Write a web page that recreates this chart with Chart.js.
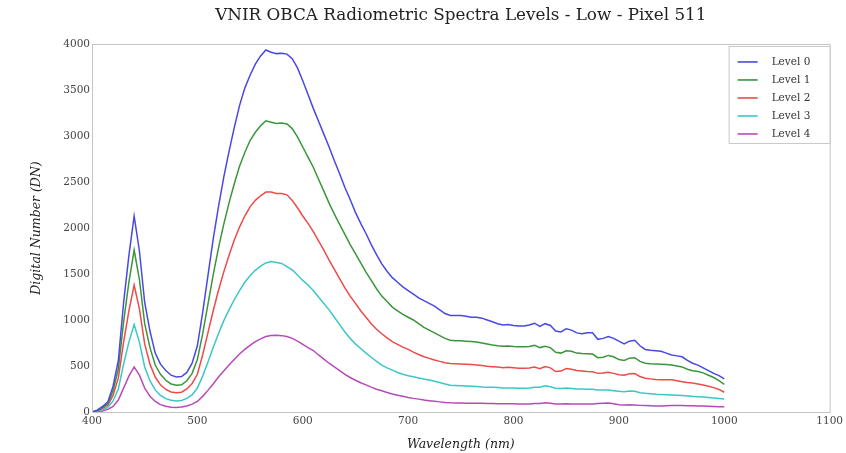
<!DOCTYPE html>
<html>
<head>
<meta charset="utf-8">
<script src="https://cdn.jsdelivr.net/npm/chart.js@4"></script>
<style>
  html, body { margin: 0; padding: 0; background: #fff; }
  #wrap { width: 846px; height: 453px; }
</style>
</head>
<body>
<div id="wrap"><canvas id="spectra" width="846" height="453"></canvas></div>
<script>
// wavelength samples (nm)
const wavelengths = [
  400, 405, 410, 415, 420, 425, 430, 435, 440, 445,
  450, 455, 460, 465, 470, 475, 480, 485, 490, 495,
  500, 505, 510, 515, 520, 525, 530, 535, 540, 545,
  550, 555, 560, 565, 570, 575, 580, 585, 590, 595,
  600, 605, 610, 615, 620, 625, 630, 635, 640, 645,
  650, 655, 660, 665, 670, 675, 680, 685, 690, 695,
  700, 705, 710, 715, 720, 725, 730, 735, 740, 745,
  750, 755, 760, 765, 770, 775, 780, 785, 790, 795,
  800, 805, 810, 815, 820, 825, 830, 835, 840, 845,
  850, 855, 860, 865, 870, 875, 880, 885, 890, 895,
  900, 905, 910, 915, 920, 925, 930, 935, 940, 945,
  950, 955, 960, 965, 970, 975, 980, 985, 990, 995,
  1000
];

const level0 = [
  0, 20, 60, 110, 280, 560, 1190, 1700, 2130, 1750,
  1190, 880, 640, 520, 450, 400, 380, 385, 430, 530,
  720, 1080, 1480, 1880, 2230, 2550, 2830, 3090, 3330, 3520,
  3660, 3780, 3870, 3935, 3910, 3895, 3900, 3890, 3840, 3740,
  3600, 3450, 3300, 3160, 3020, 2880, 2730, 2590, 2440, 2310,
  2170, 2050, 1940, 1820, 1710, 1610, 1530, 1460, 1410, 1360,
  1320, 1280, 1240, 1210, 1180, 1150, 1110, 1070, 1050, 1050,
  1050, 1040, 1030, 1030, 1020, 1000, 980, 960, 945, 950,
  940, 935, 935, 945, 965, 930, 960, 940, 880, 870,
  905, 890, 860, 850, 860, 860, 790, 800, 820, 800,
  770, 740, 770, 780, 720, 680, 670, 665, 660, 640,
  620, 610, 600, 560, 530, 510, 480, 450, 420, 395,
  360
];

const level1 = [
  0, 15, 50, 90, 230, 470, 980, 1410, 1760, 1440,
  960, 700, 510, 410, 345, 305, 290, 295, 340, 420,
  570, 850, 1170, 1490, 1780, 2040, 2270, 2480, 2670, 2820,
  2950, 3040, 3110, 3165, 3150, 3135, 3140, 3130, 3080, 2990,
  2880, 2770, 2660, 2530, 2400, 2270, 2150, 2040, 1930, 1820,
  1720, 1620, 1520, 1430, 1340, 1260, 1200, 1140, 1100, 1060,
  1030, 1000, 960, 920, 890, 860, 830, 800, 780, 775,
  775, 770, 765, 760, 750, 740, 728, 720, 715, 718,
  712, 710, 710, 712, 725, 700, 715, 700, 650, 640,
  665, 660, 640, 635, 632, 630, 590, 595, 615, 600,
  570, 560, 585, 590, 550, 530, 525, 522, 520, 515,
  510, 500, 490, 465, 448, 440, 425, 400, 375, 340,
  300
];

const level2 = [
  0, 12, 40, 75, 180, 370, 760, 1100, 1380, 1120,
  740, 520, 380, 295, 245, 218, 210, 215, 250, 310,
  410, 620, 860, 1100, 1320, 1520, 1700, 1870, 2010, 2130,
  2230, 2300, 2350, 2390, 2390, 2375, 2375, 2360, 2300, 2220,
  2130, 2050, 1960, 1860, 1760, 1650, 1550, 1450, 1350, 1260,
  1180, 1100, 1030, 960, 900, 850, 805, 765, 735, 705,
  680, 650, 625, 600, 583, 565, 550, 535, 528, 525,
  522, 518, 515, 511, 505, 498, 493, 488, 482, 485,
  480, 476, 475, 478, 488, 470, 495, 480, 440, 445,
  472, 465, 450, 445, 440, 438, 420, 425, 432, 420,
  405, 400, 415, 418, 385, 366, 360, 352, 350, 350,
  350, 340, 330, 320, 315, 305, 293, 280, 265, 245,
  215
];

const level3 = [
  0, 8, 25, 50, 120, 250, 520, 760, 950, 760,
  490, 340, 240, 180, 145, 128, 120, 125, 148, 185,
  260, 390, 540, 700, 850, 990, 1110, 1220, 1320, 1410,
  1480, 1540, 1585, 1620, 1635, 1625, 1615, 1580, 1545, 1490,
  1430, 1380, 1320, 1250, 1180, 1110, 1030, 950, 870, 800,
  740, 690, 640, 595, 550, 510, 480, 455, 430, 410,
  395, 382, 370, 358, 348, 335, 320, 305, 292, 288,
  285, 282, 280, 276, 272, 270, 268, 265, 262, 262,
  260, 258, 257, 260, 270, 268, 285, 275, 258, 255,
  260, 255, 250, 250, 248, 247, 240, 238, 240, 232,
  225, 221, 228, 225, 210, 203, 198, 192, 190, 188,
  186, 182, 178, 175, 170, 167, 163, 158, 152, 146,
  140
];

const level4 = [
  0, 5, 12, 28, 60, 130, 260, 390, 490, 400,
  260, 170, 115, 80, 62, 52, 50, 54, 66, 85,
  115, 170, 235, 305, 380, 445, 510, 570, 630, 680,
  725, 765, 795, 820, 832, 835, 830, 820, 800, 770,
  735, 700, 668, 620, 575, 530, 490, 450, 410, 375,
  345, 318, 295, 270, 248, 230, 212, 195, 182, 170,
  158, 148, 140, 130, 123, 117, 110, 104, 100, 98,
  97, 96, 95, 95, 94, 93, 92, 90, 90, 90,
  89, 88, 87, 88, 92, 92, 100, 95, 88, 88,
  90, 88, 86, 86, 86, 87, 92, 96, 98, 90,
  80, 76, 78, 76, 72, 70, 68, 66, 66, 68,
  70, 70, 70, 68, 68, 66, 64, 62, 60, 58,
  56
];

const levelNames = ['Level 0', 'Level 1', 'Level 2', 'Level 3', 'Level 4'];
const levelColors = ['#4848e6', '#3a963a', '#ee4a4a', '#3cc6c6', '#b84ab8'];
const levels = [level0, level1, level2, level3, level4];

const serif = '"DejaVu Serif", "Liberation Serif", serif';

// matplotlib-like frame around the plot area
const framePlugin = {
  id: 'frame',
  afterDraw(chart) {
    const a = chart.chartArea;
    const c = chart.ctx;
    c.save();
    c.strokeStyle = '#c4c4c4';
    c.lineWidth = 1;
    c.strokeRect(a.left + 0.5, a.top + 0.5, a.right - a.left, a.bottom - a.top);
    c.restore();
  }
};

// legend box in the upper right corner, inside the axes
const insideLegend = {
  id: 'insideLegend',
  afterDraw(chart) {
    const a = chart.chartArea;
    const c = chart.ctx;
    const w = 101, h = 97;
    const x = a.right - w, y = a.top + 2;
    c.save();
    c.fillStyle = '#fff';
    c.fillRect(x, y, w, h);
    c.strokeStyle = '#c8c8c8';
    c.lineWidth = 1;
    c.strokeRect(x + 0.5, y + 0.5, w, h);
    c.font = '10.5px ' + serif;
    c.textBaseline = 'middle';
    chart.data.datasets.forEach((ds, i) => {
      const ly = y + 16 + i * 18;
      c.strokeStyle = ds.borderColor;
      c.lineWidth = 1.6;
      c.beginPath();
      c.moveTo(x + 9, ly);
      c.lineTo(x + 29, ly);
      c.stroke();
      c.fillStyle = '#333';
      c.fillText(ds.label, x + 43, ly);
    });
    c.restore();
  }
};

const ctx = document.getElementById('spectra').getContext('2d');

const dataSpectra = {
  datasets: levels.map((vals, i) => ({
    label: levelNames[i],
    data: wavelengths.map((w, j) => ({ x: w, y: vals[j] })),
    borderColor: levelColors[i],
    backgroundColor: levelColors[i],
    borderWidth: 1.5,
    pointRadius: 0,
    tension: 0,
    fill: false
  }))
};

const configSpectra = {
  type: 'line',
  data: dataSpectra,
  options: {
    responsive: false,
    animation: false,
    layout: { padding: { left: 0, right: 13, top: 0, bottom: 0 } },
    scales: {
      x: {
        type: 'linear',
        min: 400,
        max: 1100,
        grid: { display: false, drawTicks: false },
        border: { display: false },
        ticks: {
          stepSize: 100,
          padding: 3,
          color: '#444',
          font: { family: serif, size: 10.5 },
          callback: v => String(v)
        },
        title: {
          display: true,
          text: 'Wavelength (nm)',
          color: '#222',
          font: { family: serif, size: 12.5, style: 'italic' },
          padding: { top: 0, bottom: 1 }
        },
        afterFit: s => { s.height = 41; }
      },
      y: {
        min: 0,
        max: 4000,
        grid: { display: false, drawTicks: false },
        border: { display: false },
        ticks: {
          stepSize: 500,
          padding: 2,
          color: '#444',
          font: { family: serif, size: 10.5 },
          callback: v => String(v)
        },
        title: {
          display: true,
          text: 'Digital Number (DN)',
          color: '#222',
          font: { family: serif, size: 12.5, style: 'italic' },
          padding: { top: 29, bottom: 0 }
        },
        afterFit: s => { s.width = 92; }
      }
    },
    plugins: {
      legend: { display: false },
      tooltip: { enabled: false },
      title: {
        display: true,
        fullSize: false,
        text: 'VNIR OBCA Radiometric Spectra Levels - Low - Pixel 511',
        color: '#222',
        font: { family: serif, size: 16.8, weight: 'normal' },
        padding: { top: 6, bottom: 17.8 }
      }
    }
  },
  plugins: [framePlugin, insideLegend]
};

const grafikSpectra = new Chart(ctx, configSpectra);
</script>
</body>
</html>
